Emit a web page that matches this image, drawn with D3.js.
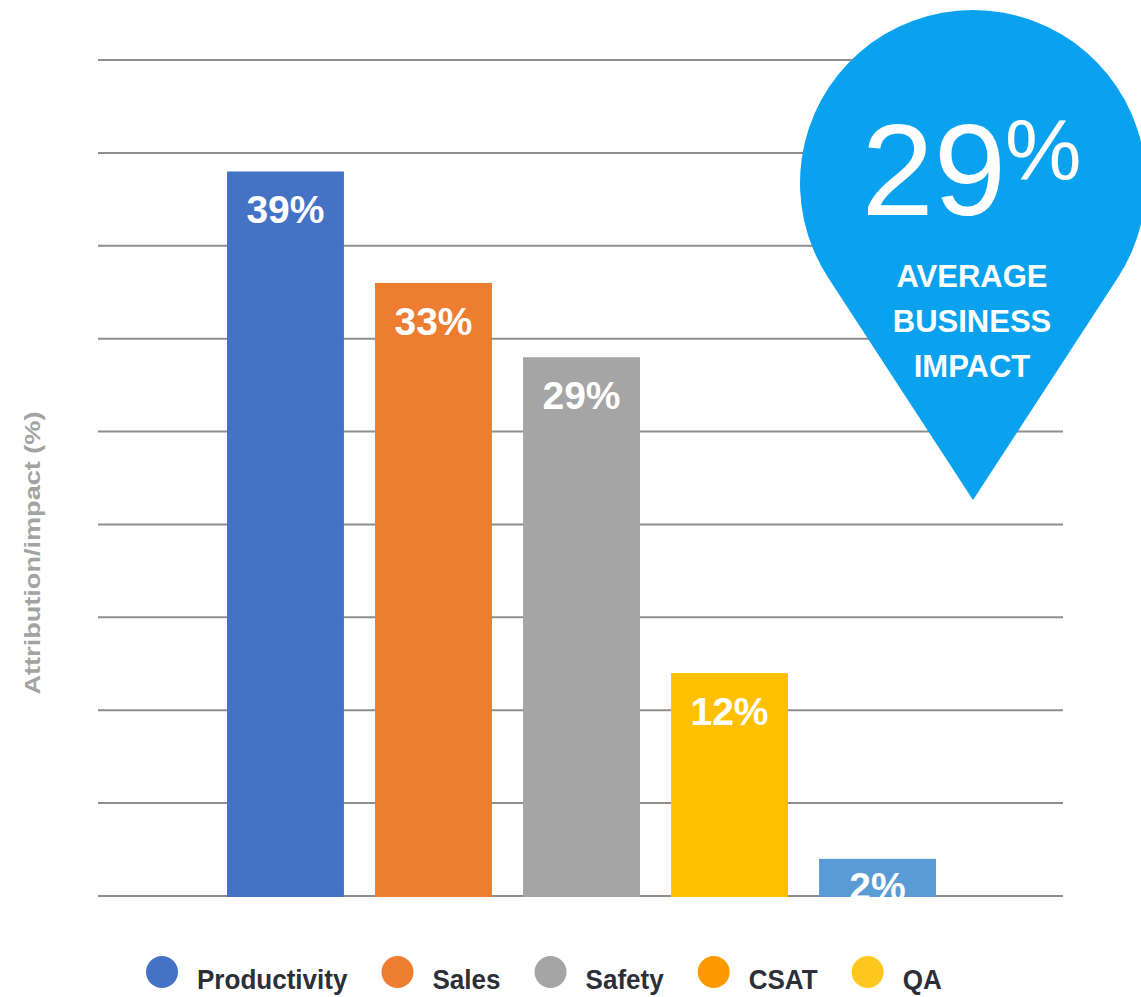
<!DOCTYPE html>
<html>
<head>
<meta charset="utf-8">
<script src="https://cdn.jsdelivr.net/npm/d3@7"></script>
<style>
  html, body { margin: 0; padding: 0; background: #ffffff; }
  svg { display: block; font-family: "Liberation Sans", Arial, sans-serif; }
</style>
</head>
<body>
<svg id="chart" width="1141" height="997"></svg>
<script>
// ---- data ----
const categories = ["Productivity", "Sales", "Safety", "CSAT", "QA"];
const values = [39, 33, 29, 12, 2];
const barColors = ["#4472c4", "#ed7d31", "#a5a5a5", "#ffc000", "#5b9bd5"];
const legendLabels = ["Productivity", "Sales", "Safety", "CSAT", "QA"];
const legendColors = ["#4472c4", "#ed7d31", "#a5a5a5", "#ff9900", "#ffc61e"];
const yTicks = [0, 5, 10, 15, 20, 25, 30, 35, 40, 45];
const yAxisTitle = "Attribution/impact (%)";
const averageValue = 29;
const averageLines = ["AVERAGE", "BUSINESS", "IMPACT"];

// ---- layout ----
const svg = d3.select("#chart");
const gridX0 = 98, gridX1 = 1063;
const y = d3.scaleLinear().domain([0, 45]).range([896, 60]);
const x = d3.scaleBand().domain(categories).range([227, 936]).paddingInner(0.21).paddingOuter(0);

// gridlines
svg.append("g").selectAll("line").data(yTicks).join("line")
  .attr("x1", gridX0).attr("x2", gridX1)
  .attr("y1", d => y(d)).attr("y2", d => y(d))
  .attr("stroke", "#8e8e8e").attr("stroke-width", 2);

// y axis title
svg.append("text")
  .attr("transform", `translate(40,553) rotate(-90)`)
  .attr("text-anchor", "middle")
  .attr("font-size", 22).attr("font-weight", "bold")
  .attr("fill", "#a3a3a3")
  .attr("textLength", 283).attr("lengthAdjust", "spacingAndGlyphs")
  .text(yAxisTitle);

// clip paths for labels
const defs = svg.append("defs");
categories.forEach((c, i) => {
  defs.append("clipPath").attr("id", "clip" + i)
    .append("rect")
    .attr("x", x(c)).attr("y", y(values[i]))
    .attr("width", x.bandwidth()).attr("height", y(0) - y(values[i]) + 1);
});

// bars
const bars = svg.append("g");
bars.selectAll("rect").data(categories).join("rect")
  .attr("x", d => x(d))
  .attr("y", (d, i) => y(values[i]))
  .attr("width", x.bandwidth())
  .attr("height", (d, i) => y(0) - y(values[i]) + 1)
  .attr("fill", (d, i) => barColors[i]);

// bar labels
bars.selectAll("text").data(categories).join("text")
  .attr("clip-path", (d, i) => `url(#clip${i})`)
  .attr("x", d => x(d) + x.bandwidth() / 2)
  .attr("y", (d, i) => Math.min(y(values[i]) + 52, y(0) + 4))
  .attr("text-anchor", "middle")
  .attr("font-size", 39).attr("font-weight", "bold")
  .attr("fill", "#ffffff")
  .text((d, i) => values[i] + "%");

// pin
const cx = 973, cy = 183, r = 173, tipY = 500;
const dist = tipY - cy;
const alpha = Math.acos(r / dist);
const a0 = Math.PI / 2 + alpha, a1 = Math.PI / 2 - alpha + 2 * Math.PI;
const p = d3.path();
p.moveTo(cx, tipY);
p.lineTo(cx + r * Math.cos(a0), cy + r * Math.sin(a0));
p.arc(cx, cy, r, a0, a1, false);
p.closePath();
svg.append("path").attr("d", p.toString()).attr("fill", "#0aa2ef");

svg.append("text")
  .attr("x", 1006).attr("y", 215)
  .attr("text-anchor", "end")
  .attr("font-size", 130).attr("fill", "#ffffff")
  .text(String(averageValue));
svg.append("text")
  .attr("x", 1005).attr("y", 180)
  .attr("text-anchor", "start")
  .attr("font-size", 86).attr("fill", "#ffffff")
  .text("%");
svg.append("g").selectAll("text").data(averageLines).join("text")
  .attr("x", 972)
  .attr("y", (d, i) => 287 + i * 45)
  .attr("text-anchor", "middle")
  .attr("font-size", 31).attr("font-weight", "bold")
  .attr("fill", "#ffffff")
  .text(d => d);

// legend (flow layout)
const legend = svg.append("g");
let lx = 146;
const legendY = 972;
legendLabels.forEach((lab, i) => {
  legend.append("circle")
    .attr("cx", lx + 16).attr("cy", legendY).attr("r", 16)
    .attr("fill", legendColors[i]);
  const t = legend.append("text")
    .attr("x", lx + 51).attr("y", legendY + 17)
    .attr("font-size", 28).attr("font-weight", "bold")
    .attr("fill", "#2d2f38")
    .text(lab);
  const w = t.node().getComputedTextLength() * 0.93;
  t.attr("textLength", w).attr("lengthAdjust", "spacingAndGlyphs");
  lx = lx + 51 + w + 34;
});
</script>
</body>
</html>
